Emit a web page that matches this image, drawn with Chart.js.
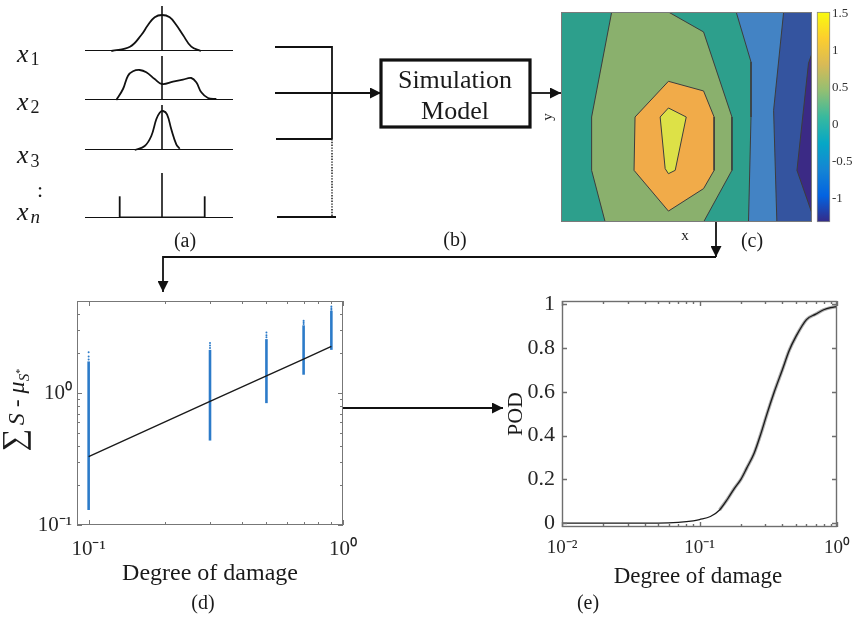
<!DOCTYPE html>
<html>
<head>
<meta charset="utf-8">
<title>Probability of detection workflow</title>
<script src="https://cdn.jsdelivr.net/npm/chart.js@4.4.1/dist/chart.umd.min.js"></script>
<style>
  html, body { margin: 0; padding: 0; background: #fff; }
  #fig { position: relative; width: 858px; height: 617px; overflow: hidden; background: #fff; }
  #fig canvas { position: absolute; }
  #overlay { position: absolute; left: 0; top: 0; z-index: 2; pointer-events: none; }
  #overlay text { font-family: "Liberation Serif", "Times New Roman", serif; fill: #1a1a1a; }
</style>
</head>
<body>
<div id="fig">
  <canvas id="pdf1" width="152" height="49" style="left:83px;top:4px"></canvas>
  <canvas id="pdf2" width="152" height="48" style="left:83px;top:54px"></canvas>
  <canvas id="pdf3" width="152" height="49" style="left:83px;top:103px"></canvas>
  <canvas id="pdfN" width="152" height="49" style="left:83px;top:171px"></canvas>
  <canvas id="contour" width="253" height="212" style="left:560px;top:11px"></canvas>
  <canvas id="cbar" width="43" height="232" style="left:815px;top:0px"></canvas>
  <canvas id="trend" width="375" height="270" style="left:0px;top:290px"></canvas>
  <canvas id="pod" width="358" height="270" style="left:500px;top:290px"></canvas>

  <svg id="overlay" width="858" height="617" xmlns="http://www.w3.org/2000/svg">
    <defs>
      <marker id="ah" viewBox="0 0 10 10" refX="10" refY="5" markerWidth="11" markerHeight="11"
              markerUnits="userSpaceOnUse" orient="auto">
        <path d="M0,0 L10,5 L0,10 z" fill="#111"/>
      </marker>
    </defs>
    <!-- (b) input wiring and simulation block -->
    <g stroke="#111" stroke-width="1.8" fill="none">
      <path d="M275,47 H332 M276,139 H332 M277,217 H336"/>
      <path d="M332,46 V139"/>
      <path d="M332,139 V217" stroke-dasharray="1.4 1.4" stroke-width="1.4"/>
      <path d="M275,93 H381" marker-end="url(#ah)"/>
      <rect x="381" y="60" width="149" height="67" stroke-width="3.2"/>
      <path d="M530,93 H561" marker-end="url(#ah)"/>
      <path d="M716,222 V257" marker-end="url(#ah)"/>
      <path d="M716,257 H163 V292" marker-end="url(#ah)"/>
      <path d="M343,408 H503" marker-end="url(#ah)"/>
    </g>
    <!-- (a) variable names -->
    <g font-size="26">
      <text x="17" y="62" font-style="italic">x<tspan dx="2" dy="3" font-size="18" font-style="normal">1</tspan></text>
      <text x="17" y="110" font-style="italic">x<tspan dx="2" dy="3" font-size="18" font-style="normal">2</tspan></text>
      <text x="17" y="163" font-style="italic">x<tspan dx="2" dy="4" font-size="18" font-style="normal">3</tspan></text>
      <text x="37" y="197" font-size="22">:</text>
      <text x="17" y="220" font-style="italic">x<tspan dx="2" dy="3" font-size="19">n</tspan></text>
    </g>
    <g font-size="20" text-anchor="middle">
      <text x="185" y="247">(a)</text>
      <text x="455" y="246">(b)</text>
      <text x="752" y="247">(c)</text>
      <text x="203" y="609">(d)</text>
      <text x="588" y="609">(e)</text>
    </g>
    <g font-size="26" text-anchor="middle">
      <text x="455" y="88">Simulation</text>
      <text x="455" y="119">Model</text>
    </g>
    <!-- (c) axis names -->
    <text x="685" y="240" font-size="15" text-anchor="middle">x</text>
    <text transform="translate(552,117) rotate(-90)" font-size="15" text-anchor="middle">y</text>
    <!-- (d) axis titles -->
    <text x="210" y="580" font-size="24" text-anchor="middle">Degree of damage</text>
    <text transform="translate(24,410) rotate(-90)" font-size="24" text-anchor="middle"><tspan font-size="32">∑</tspan><tspan font-style="italic" dx="3">S</tspan> - <tspan font-style="italic">μ</tspan><tspan font-style="italic" font-size="15" dy="5">S</tspan><tspan font-size="10" dy="-6">*</tspan></text>
    <!-- (e) axis titles -->
    <text x="698" y="583" font-size="23" text-anchor="middle">Degree of damage</text>
    <text transform="translate(522,414) rotate(-90)" font-size="22" text-anchor="middle">POD</text>
  </svg>
</div>

<script>
// ---------- (a) input distributions: [offset from mean, density height] ----------
const supportRange = [-77, 71];
const pdf1X = [-50.7, -32, -20.7, -14, -7.3, 0, 7.7, 14.3, 21, 29.3, 39];
const pdf1Y = [0, 4.3, 16, 26, 33.7, 36, 33.7, 26, 16, 4.3, 0];
const pdf2X = [-45.7, -39, -34, -29, -22.3, -15.7, -7.3, 0, 11, 21, 29.3, 34.3, 39.3, 46, 54.3];
const pdf2Y = [0, 11, 24.3, 28.7, 30, 27.7, 21, 16, 18.3, 20.3, 22, 17.7, 7.7, 2, 1];
const pdf3X = [-27.3, -17.3, -10.7, -5.7, -2.3, 1, 5, 9.3, 14.3, 17.7];
const pdf3Y = [0, 4, 14, 30.7, 37.3, 39, 35.7, 20.7, 5.7, 1.3];
const uniformBounds = [-42.3, 42.7];
const uniformHeight = 21.7;

// ---------- (c) filled contour regions of the response field (x, y in [0, 1]) ----------
const regionBase = [[0, 0], [1, 0], [1, 1], [0, 1]];
const regionGreen = [[0.202, 1], [0.428, 1], [0.568, 0.905], [0.681, 0.5], [0.681, 0.246], [0.568, 0], [0.176, 0], [0.122, 0.246], [0.122, 0.5]];
const regionOrange = [[0.428, 0.67], [0.568, 0.624], [0.610, 0.5], [0.610, 0.246], [0.568, 0.159], [0.428, 0.052], [0.291, 0.246], [0.295, 0.5]];
const regionYellow = [[0.428, 0.543], [0.499, 0.5], [0.455, 0.246], [0.428, 0.23], [0.415, 0.254], [0.395, 0.5]];
const regionLightBlue = [[0.698, 1], [0.757, 0.762], [0.757, 0.5], [0.747, 0], [1, 0], [1, 1]];
const regionDarkBlue = [[0.887, 1], [0.847, 0.532], [0.860, 0], [1, 0], [1, 1]];
const regionDarkest = [[1, 0.803], [0.986, 0.756], [0.940, 0.246], [1, 0.041]];
const cbarRange = [-1.31, 1.52];
const cbarTicks = [-1, -0.5, 0, 0.5, 1, 1.5];
const cbarLabels = ['-1', '-0.5', '0', '0.5', '1', '1.5'];

// ---------- (d) summed signal vs. degree of damage ----------
const damageLevels = [0.1, 0.3, 0.5, 0.7, 0.9];
const signalLow = [0.13, 0.437, 0.84, 1.38, 2.13];
const signalHigh = [1.74, 2.13, 2.57, 3.27, 4.22];
const signalSparse = [[1.8, 1.9, 2.04], [2.2, 2.3, 2.4], [2.65, 2.75, 2.89], [3.35, 3.45, 3.54], [4.3, 4.4, 4.55]];
const signalFit = [0.33, 0.865, 1.35, 1.81, 2.26];
const trendXTicks = [0.1, 1];
const trendYTicks = [0.1, 1];
const trendXMinor = [0.2, 0.3, 0.4, 0.5, 0.6, 0.7, 0.8, 0.9];
const trendYMinor = [0.2, 0.3, 0.4, 0.5, 0.6, 0.7, 0.8, 0.9, 2, 3, 4];

// ---------- (e) probability of detection curve ----------
const podDamage = [0.01, 0.02, 0.03, 0.05, 0.07, 0.09, 0.1, 0.12, 0.14, 0.16, 0.18, 0.2, 0.22, 0.25, 0.28, 0.31, 0.35, 0.4, 0.45, 0.5, 0.6, 0.7, 0.8, 0.9, 1.0];
const podValue  = [0, 0, 0, 0, 0.003, 0.01, 0.016, 0.03, 0.06, 0.11, 0.16, 0.2, 0.25, 0.32, 0.41, 0.5, 0.6, 0.7, 0.79, 0.85, 0.93, 0.955, 0.975, 0.985, 0.99];
const podXTicks = [0.01, 0.1, 1];
const podYTicks = [0, 0.2, 0.4, 0.6, 0.8, 1];
const podYLabels = ['0', '0.2', '0.4', '0.6', '0.8', '1'];
const podXMinor = [0.02, 0.03, 0.04, 0.05, 0.06, 0.07, 0.08, 0.09, 0.2, 0.3, 0.4, 0.5, 0.6, 0.7, 0.8, 0.9];

Chart.defaults.font.family = '"Liberation Serif", "Times New Roman", serif';
Chart.defaults.color = '#262626';

const SUP = {'-': '\u207B', '0': '\u2070', '1': '\u00B9', '2': '\u00B2', '3': '\u00B3'};
function decadeLabel(v) {
  const e = String(Math.round(Math.log10(v)));
  return '10' + e.split('').map(c => SUP[c]).join('');
}
const pts = (xs, ys) => xs.map((x, i) => ({x, y: ys[i]}));
const ring = poly => poly.concat([poly[0]]).map(([x, y]) => ({x, y}));

// Fixed axis sizes so the plot box lands at a known place; label overhang is absorbed by layout padding.
const fixY = w => s => { s.width = w; s.paddingTop = 0; s.paddingBottom = 0; };
const fixX = h => s => { s.height = h; s.paddingLeft = 0; s.paddingRight = 0; };

// Box frame with inward tick marks on all four sides.
const frameTicks = {
  id: 'frameTicks',
  afterDatasetsDraw(chart, args, o) {
    if (!o || !o.enabled) return;
    const {ctx, chartArea: a, scales} = chart;
    ctx.save();
    ctx.strokeStyle = o.color;
    ctx.lineWidth = o.width;
    ctx.beginPath();
    const mark = (vals, len, isX) => (vals || []).forEach(v => {
      if (isX) {
        const p = Math.round(scales.x.getPixelForValue(v)) + 0.5;
        ctx.moveTo(p, a.bottom); ctx.lineTo(p, a.bottom - len);
        ctx.moveTo(p, a.top); ctx.lineTo(p, a.top + len);
      } else {
        const p = Math.round(scales.y.getPixelForValue(v)) + 0.5;
        ctx.moveTo(a.left, p); ctx.lineTo(a.left + len, p);
        ctx.moveTo(a.right, p); ctx.lineTo(a.right - len, p);
      }
    });
    mark(o.xMajor, o.majorLen, true);
    mark(o.xMinor, o.minorLen, true);
    mark(o.yMajor, o.majorLen, false);
    mark(o.yMinor, o.minorLen, false);
    ctx.stroke();
    ctx.strokeRect(a.left + 0.5, a.top + 0.5, a.width - 1, a.height - 1);
    ctx.restore();
  }
};

const quiet = {legend: {display: false}, tooltip: {enabled: false}};

// ---------- (a) ----------
function pdfChart(id, height, curves, baseWidth) {
  const datasets = curves.map(c => Object.assign({
    borderColor: '#111', borderWidth: 1.8, pointRadius: 0, tension: 0.4, fill: false
  }, c));
  datasets.push({data: [{x: 0, y: 0}, {x: 0, y: height}], borderColor: '#111', borderWidth: 1.6, pointRadius: 0});
  datasets.push({data: [{x: supportRange[0], y: 0}, {x: supportRange[1], y: 0}], borderColor: '#111', borderWidth: baseWidth, pointRadius: 0});
  new Chart(document.getElementById(id), {
    type: 'line',
    data: {datasets},
    options: {
      responsive: false, animation: false, events: [],
      layout: {padding: 2},
      plugins: quiet,
      scales: {
        x: {type: 'linear', min: supportRange[0], max: supportRange[1], display: false},
        y: {type: 'linear', min: 0, max: height, display: false}
      }
    }
  });
}
pdfChart('pdf1', 45, [{data: pts(pdf1X, pdf1Y), clip: false}], 2);
pdfChart('pdf2', 44, [{data: pts(pdf2X, pdf2Y), clip: false}], 2);
pdfChart('pdf3', 45, [{data: pts(pdf3X, pdf3Y), clip: false}], 2);
pdfChart('pdfN', 45, [
  {data: [{x: uniformBounds[0], y: 0}, {x: uniformBounds[0], y: uniformHeight}], tension: 0},
  {data: [{x: uniformBounds[1], y: 0}, {x: uniformBounds[1], y: uniformHeight}], tension: 0},
  {data: [{x: uniformBounds[0], y: 0}, {x: uniformBounds[1], y: 0}], tension: 0, borderWidth: 2.8}
], 2);

// ---------- (c) ----------
const regions = [
  {poly: regionYellow, color: '#dde147', edge: true},
  {poly: regionOrange, color: '#f1ab49', edge: true},
  {poly: regionGreen, color: '#8ab06d', edge: true},
  {poly: regionDarkest, color: '#3b2a85', edge: true},
  {poly: regionDarkBlue, color: '#34549f', edge: true},
  {poly: regionLightBlue, color: '#4383c4', edge: true},
  {poly: regionBase, color: '#2d9f8c', edge: false}
];
new Chart(document.getElementById('contour'), {
  type: 'line',
  data: {
    datasets: regions.map(r => ({
      data: ring(r.poly), fill: 'shape', backgroundColor: r.color,
      borderColor: r.edge ? '#3d3d3d' : 'rgba(0,0,0,0)', borderWidth: r.edge ? 1 : 0,
      pointRadius: 0, tension: 0
    }))
  },
  options: {
    responsive: false, animation: false, events: [],
    layout: {padding: 1},
    plugins: Object.assign({frameTicks: {enabled: true, color: '#7a7a7a', width: 1}}, quiet),
    scales: {
      x: {type: 'linear', min: 0, max: 1, display: false},
      y: {type: 'linear', min: 0, max: 1, display: false}
    }
  },
  plugins: [frameTicks]
});

const parula = ['#352a87', '#0363e1', '#1485d4', '#06a7c6', '#38b99e', '#92bf73', '#d9ba56', '#fcce2e', '#f9fb0e'];
new Chart(document.getElementById('cbar'), {
  type: 'bar',
  data: {
    labels: [''],
    datasets: [{
      data: [cbarRange.slice()],
      backgroundColor(ctx) {
        const a = ctx.chart.chartArea;
        if (!a) return '#2d9f8c';
        const g = ctx.chart.ctx.createLinearGradient(0, a.bottom, 0, a.top);
        parula.forEach((c, i) => g.addColorStop(i / (parula.length - 1), c));
        return g;
      },
      borderColor: '#8a8a8a', borderWidth: 1, borderSkipped: false,
      categoryPercentage: 1, barPercentage: 1, clip: false
    }]
  },
  options: {
    responsive: false, animation: false, events: [],
    layout: {padding: {left: 2, right: 0, top: 12, bottom: 10}},
    plugins: quiet,
    scales: {
      x: {display: false},
      y: {
        position: 'right', min: cbarRange[0], max: cbarRange[1],
        grid: {display: false, drawTicks: false}, border: {display: false},
        afterFit: fixY(28),
        afterBuildTicks(s) { s.ticks = cbarTicks.map(v => ({value: v})); },
        ticks: {padding: 2, font: {size: 13}, color: '#333', autoSkip: false, callback: (v, i) => cbarLabels[i]}
      }
    }
  }
});

// ---------- (d) ----------
const blue = '#2c7bc9';
const trendSets = [
  {data: pts(damageLevels, signalFit), borderColor: '#1a1a1a', borderWidth: 1.4, pointRadius: 0, tension: 0},
  {data: damageLevels.flatMap((d, i) => signalSparse[i].map(y => ({x: d, y}))), showLine: false,
   pointRadius: 1, pointBorderWidth: 0, pointBackgroundColor: blue}
].concat(damageLevels.map((d, i) => ({
  data: [{x: d, y: signalLow[i]}, {x: d, y: signalHigh[i]}],
  borderColor: blue, borderWidth: 2.6, pointRadius: 0, borderCapStyle: 'butt'
})));
new Chart(document.getElementById('trend'), {
  type: 'line',
  data: {datasets: trendSets},
  options: {
    responsive: false, animation: false, events: [],
    layout: {padding: {left: 0, right: 32, top: 11, bottom: 0}},
    plugins: Object.assign({frameTicks: {
      enabled: true, color: '#777', width: 1, majorLen: 5, minorLen: 3,
      xMajor: trendXTicks, xMinor: trendXMinor, yMajor: trendYTicks, yMinor: trendYMinor
    }}, quiet),
    scales: {
      x: {
        type: 'logarithmic', min: 0.09, max: 1,
        grid: {display: false, drawTicks: false}, border: {display: false},
        afterFit: fixX(35),
        afterBuildTicks(s) { s.ticks = trendXTicks.map(v => ({value: v})); },
        ticks: {autoSkip: false, maxRotation: 0, padding: 12, font: {size: 21}, color: '#262626', callback: v => decadeLabel(v)}
      },
      y: {
        type: 'logarithmic', min: 0.1, max: 5,
        grid: {display: false, drawTicks: false}, border: {display: false},
        afterFit: fixY(77),
        afterBuildTicks(s) { s.ticks = trendYTicks.map(v => ({value: v})); },
        ticks: {autoSkip: false, padding: 5, font: {size: 21}, color: '#262626', callback: v => decadeLabel(v)}
      }
    }
  },
  plugins: [frameTicks]
});

// ---------- (e) ----------
const bandStart = podDamage.indexOf(0.14);
new Chart(document.getElementById('pod'), {
  type: 'line',
  data: {
    datasets: [
      {data: pts(podDamage, podValue), borderColor: '#1a1a1a', borderWidth: 1.3, pointRadius: 0, cubicInterpolationMode: 'monotone'},
      {data: pts(podDamage.slice(bandStart), podValue.slice(bandStart)), borderColor: 'rgba(120,120,120,0.6)',
       borderWidth: 3.4, pointRadius: 0, cubicInterpolationMode: 'monotone'}
    ]
  },
  options: {
    responsive: false, animation: false, events: [],
    layout: {padding: {left: 0, right: 21, top: 11, bottom: 0}},
    plugins: Object.assign({frameTicks: {
      enabled: true, color: '#6e6e6e', width: 1.4, majorLen: 5, minorLen: 3,
      xMajor: podXTicks, xMinor: podXMinor, yMajor: podYTicks, yMinor: []
    }}, quiet),
    scales: {
      x: {
        type: 'logarithmic', min: 0.01, max: 1,
        grid: {display: false, drawTicks: false}, border: {display: false},
        afterFit: fixX(33),
        afterBuildTicks(s) { s.ticks = podXTicks.map(v => ({value: v})); },
        ticks: {autoSkip: false, maxRotation: 0, padding: 10, font: {size: 19}, color: '#262626', callback: v => decadeLabel(v)}
      },
      y: {
        type: 'linear', min: -0.018, max: 1.015,
        grid: {display: false, drawTicks: false}, border: {display: false},
        afterFit: fixY(62),
        afterBuildTicks(s) { s.ticks = podYTicks.map(v => ({value: v})); },
        ticks: {autoSkip: false, padding: 7, font: {size: 22}, color: '#262626', callback: (v, i) => podYLabels[i]}
      }
    }
  },
  plugins: [frameTicks]
});
</script>
</body>
</html>
